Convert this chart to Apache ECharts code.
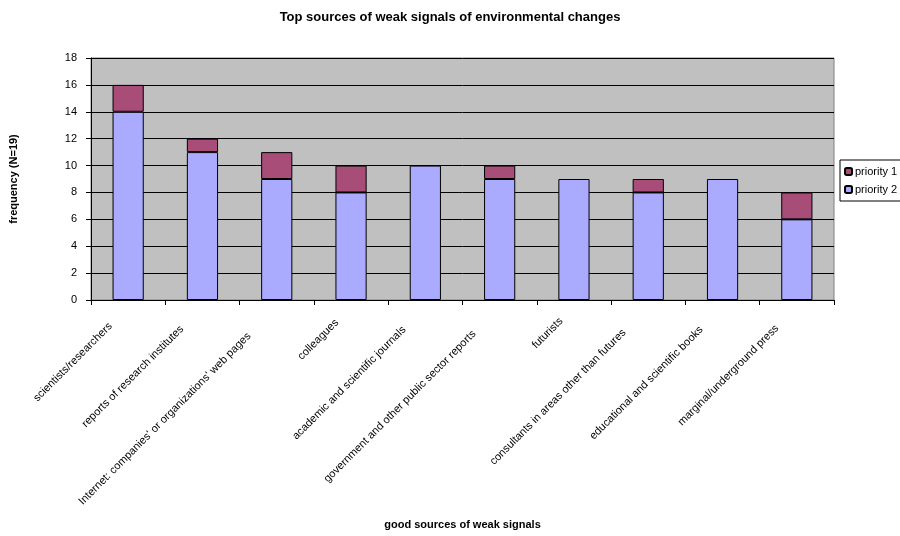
<!DOCTYPE html>
<html>
<head>
<meta charset="utf-8">
<script src="https://cdn.jsdelivr.net/npm/echarts@6/dist/echarts.min.js"></script>
<style>
  html, body { margin: 0; padding: 0; background: #fff; }
  #chart { width: 900px; height: 536px; }
</style>
</head>
<body>
<div id="chart"></div>
<script>
const categories = [
  'scientists/researchers',
  'reports of research institutes',
  "Internet: companies' or organizations' web pages",
  'colleagues',
  'academic and scientific journals',
  'government and other public sector reports',
  'futurists',
  'consultants in areas other than futures',
  'educational and scientific books',
  'marginal/underground press'
];
const priority2 = [14, 11, 9, 8, 10, 9, 9, 8, 9, 6];
const priority1 = [2, 1, 2, 2, 0, 1, 0, 1, 0, 2];
const yTicks = { min: 0, max: 18, interval: 2 };

const FONT = '"Liberation Sans", Arial, sans-serif';
const LABEL_SIZE = 11;

// Slanted category labels: longer labels sit a little further back along
// their own baseline, and every label is lifted off the tick line.
const measureCtx = document.createElement('canvas').getContext('2d');
measureCtx.font = LABEL_SIZE + 'px ' + FONT;
const labelRich = {};
categories.forEach((c, i) => {
  const w = measureCtx.measureText(c).width;
  labelRich['c' + i] = {
    fontFamily: FONT,
    fontSize: LABEL_SIZE,
    color: '#000',
    padding: [0, Math.round(4 + 0.105 * w), 20, 0]
  };
});

const chart = echarts.init(document.getElementById('chart'), null, { renderer: 'canvas' });

chart.setOption({
  backgroundColor: '#ffffff',
  animation: false,
  textStyle: { fontFamily: FONT, color: '#000' },
  title: {
    text: 'Top sources of weak signals of environmental changes',
    left: 'center',
    top: 6,
    textStyle: { fontFamily: FONT, fontSize: 13, fontWeight: 'bold', color: '#000' }
  },
  legend: {
    data: ['priority 1', 'priority 2'],
    orient: 'vertical',
    left: 840,
    top: 160,
    itemWidth: 7,
    itemHeight: 7,
    itemGap: 7,
    padding: [6, 6, 6, 4],
    borderColor: '#000',
    borderWidth: 1,
    backgroundColor: '#fff',
    textStyle: { fontFamily: FONT, fontSize: 11, color: '#000', padding: [0, 0, 0, -2] }
  },
  grid: {
    left: 89,
    right: 66,
    top: 58,
    bottom: 236,
    show: true,
    backgroundColor: '#C0C0C0',
    borderColor: '#808080',
    borderWidth: 1,
    containLabel: false
  },
  xAxis: {
    type: 'category',
    data: categories,
    name: 'good sources of weak signals',
    nameLocation: 'middle',
    nameGap: 219,
    nameTextStyle: { fontFamily: FONT, fontSize: 11, fontWeight: 'bold', color: '#000' },
    axisLine: { show: true, lineStyle: { color: '#000', width: 1 } },
    axisTick: { show: true, length: 5, lineStyle: { color: '#000' } },
    axisLabel: {
      interval: 0,
      rotate: 45,
      margin: 21,
      fontFamily: FONT,
      fontSize: LABEL_SIZE,
      color: '#000',
      formatter: (value, idx) => '{c' + idx + '|' + value + '}',
      rich: labelRich
    },
    splitLine: { show: false }
  },
  yAxis: {
    type: 'value',
    min: yTicks.min,
    max: yTicks.max,
    interval: yTicks.interval,
    name: 'frequency (N=19)',
    nameLocation: 'middle',
    nameGap: 72,
    nameRotate: 90,
    nameTextStyle: { fontFamily: FONT, fontSize: 11, fontWeight: 'bold', color: '#000' },
    axisLine: { show: true, lineStyle: { color: '#000', width: 1 } },
    axisTick: { show: true, length: 5, lineStyle: { color: '#000' } },
    axisLabel: { fontFamily: FONT, fontSize: 11, color: '#000', margin: 14 },
    splitLine: { show: true, lineStyle: { color: '#000', width: 1 } }
  },
  series: [
    {
      name: 'priority 2',
      type: 'bar',
      stack: 'total',
      data: priority2,
      barWidth: '42%',
      itemStyle: { color: '#AAAAFF', borderColor: '#000', borderWidth: 1 }
    },
    {
      name: 'priority 1',
      type: 'bar',
      stack: 'total',
      data: priority1.map(v => (v === 0 ? null : v)),
      barWidth: '42%',
      itemStyle: { color: '#A84C78', borderColor: '#000', borderWidth: 1 }
    }
  ]
});
</script>
</body>
</html>
